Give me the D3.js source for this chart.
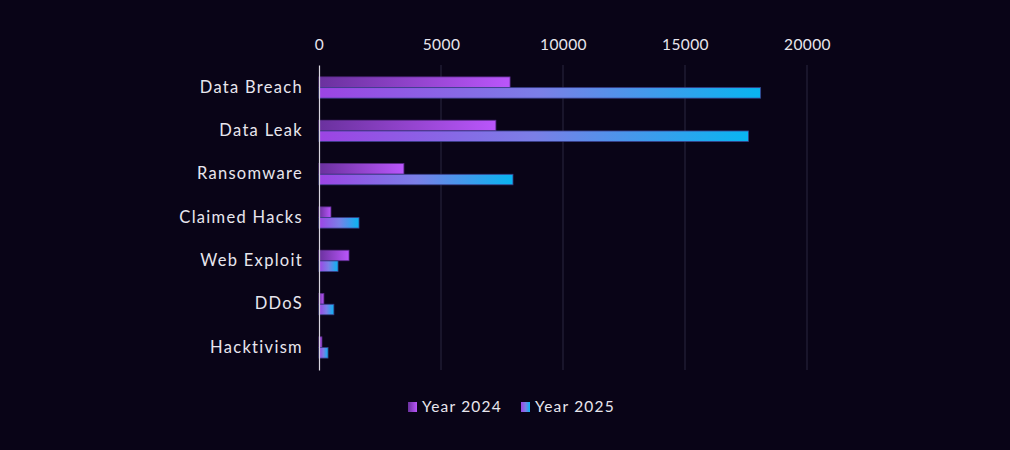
<!DOCTYPE html>
<html>
<head>
<meta charset="utf-8">
<script src="https://cdn.jsdelivr.net/npm/d3@7"></script>
<style>
  body { margin:0; background:#090417; }
  svg { display:block; }
  text { font-family: 'Lato', 'DejaVu Sans', sans-serif; fill:#e8e6ee; }
</style>
</head>
<body>
<div id="chart"></div>
<script>
const categories = ['Data Breach','Data Leak','Ransomware','Claimed Hacks','Web Exploit','DDoS','Hacktivism'];
const series = ['Year 2024','Year 2025'];
const values2024 = [7830, 7250, 3480, 490, 1230, 200, 120];
const values2025 = [18100, 17600, 7950, 1640, 780, 610, 370];
const ticks = [0, 5000, 10000, 15000, 20000];

const W = 1010, H = 450;
const m = {t:65, r:203, b:80, l:319};
const w = W - m.l - m.r;
const h = H - m.t - m.b;

const svg = d3.select('#chart')
  .append('svg')
  .attr('width', W)
  .attr('height', H);

svg.append('rect').attr('width', W).attr('height', H).attr('fill', '#090417');

// gradients per bar
const defs = svg.append('defs');
const g24 = defs.append('linearGradient').attr('id','g2024');
g24.append('stop').attr('offset','0%').attr('stop-color','#6a319e');
g24.append('stop').attr('offset','100%').attr('stop-color','#ba56fb');
const g25 = defs.append('linearGradient').attr('id','g2025');
g25.append('stop').attr('offset','0%').attr('stop-color','#9c44e4');
g25.append('stop').attr('offset','50%').attr('stop-color','#7b7fe7');
g25.append('stop').attr('offset','100%').attr('stop-color','#08b5f1');

const x = d3.scaleLinear().domain([0, 20000]).range([0, w]);
const y = d3.scaleBand().domain(categories).range([0, h]).paddingInner(0.5).paddingOuter(0.27);
const ySub = d3.scaleBand().domain(series).range([0, y.bandwidth()]).padding(0.02);

const plot = svg.append('g')
  .attr('transform', `translate(${m.l}, ${m.t})`);

// grid
plot.selectAll('.grid')
  .data(ticks.slice(1))
  .enter()
  .append('line')
  .attr('class','grid')
  .attr('x1', d => x(d)).attr('x2', d => x(d))
  .attr('y1', 0).attr('y2', h)
  .attr('stroke', '#2a2740')
  .attr('stroke-width', 1);

// top axis
const xAxis = plot.append('g')
  .call(d3.axisTop(x).tickValues(ticks).tickSize(0).tickPadding(15).tickFormat(d3.format('d')));
xAxis.select('.domain').remove();
xAxis.selectAll('text').style('font-size','15.5px').style('letter-spacing','0.4px').attr('fill','#e8e6ee');

// bars
const rows = plot.selectAll('.row')
  .data(categories)
  .enter()
  .append('g')
  .attr('class','row')
  .attr('transform', d => `translate(0, ${y(d)})`);

rows.append('rect')
  .attr('x', 0)
  .attr('y', ySub('Year 2024'))
  .attr('width', (d,i) => x(values2024[i]))
  .attr('height', ySub.bandwidth())
  .attr('fill', 'url(#g2024)')
  .attr('stroke', '#5b2b8a')
  .attr('stroke-width', 0.8);

rows.append('rect')
  .attr('x', 0)
  .attr('y', ySub('Year 2025'))
  .attr('width', (d,i) => x(values2025[i]))
  .attr('height', ySub.bandwidth())
  .attr('fill', 'url(#g2025)')
  .attr('stroke', '#3a3f8a')
  .attr('stroke-width', 0.8);

// left axis
const yAxis = plot.append('g')
  .call(d3.axisLeft(y).tickSize(0).tickPadding(16));
yAxis.select('.domain').attr('stroke','#d8d6de').attr('stroke-width',1.2);
yAxis.selectAll('text').style('font-size','16.5px').style('letter-spacing','1.3px').attr('fill','#e8e6ee');

// legend
const legend = svg.append('g').attr('transform', `translate(408, 407)`);
const items = legend.selectAll('.item')
  .data(series)
  .enter()
  .append('g')
  .attr('class','item')
  .attr('transform', (d,i) => `translate(${i*113}, 0)`);
items.append('rect')
  .attr('x', 0).attr('y', -5)
  .attr('width', 9).attr('height', 10)
  .attr('fill', (d,i) => i === 0 ? 'url(#g2024)' : 'url(#g2025)');
items.append('text')
  .attr('x', 14).attr('y', 0)
  .attr('dy', '0.35em')
  .style('font-size','15.5px')
  .style('letter-spacing','1.2px')
  .text(d => d);
</script>
</body>
</html>
